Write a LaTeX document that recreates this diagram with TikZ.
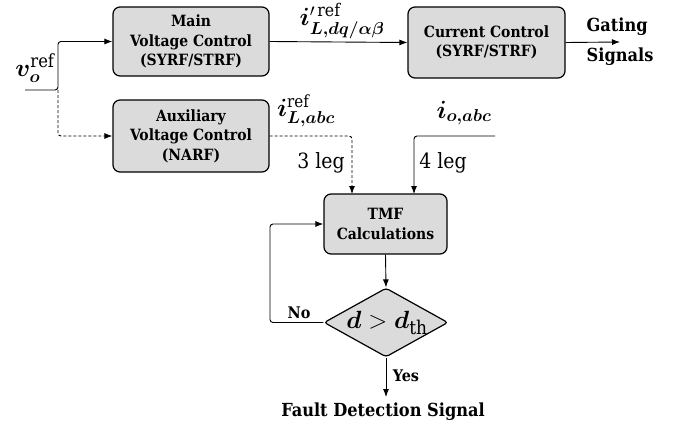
\documentclass[tikz,border=0pt]{standalone}
\usepackage{amsmath}
\usepackage{bm}
\usepackage{fontspec}
\setmainfont{DejaVu Serif Condensed}
\usetikzlibrary{arrows.meta,shapes.geometric}
\begin{document}
\begin{tikzpicture}[x=1pt,y=-1pt,
  blk/.style={draw=black,line width=1.2pt,rounded corners=7pt,fill=black!14,align=center,
    font=\fontsize{15.5}{19.5}\selectfont\bfseries,inner sep=0pt},
  conn/.style={line width=0.9pt,-{Latex[length=8pt,width=6pt]}},
  dconn/.style={conn,dash pattern=on 3pt off 2pt},
  lbl/.style={font=\fontsize{18}{30}\selectfont\bfseries,inner sep=0pt},
  mlbl/.style={font=\fontsize{24}{24}\selectfont,inner sep=0pt}]
\useasboundingbox (0,0) rectangle (677,428);
\node[blk,minimum width=156pt,minimum height=69pt] (main) at (191,41.5) {Main\\Voltage Control\\(SYRF/STRF)};
\node[blk,minimum width=157pt,minimum height=71pt] (cur) at (486.5,42.5) {Current Control\\(SYRF/STRF)};
\node[blk,minimum width=156pt,minimum height=72pt] (aux) at (191,136) {Auxiliary\\Voltage Control\\(NARF)};
\node[blk,minimum width=123pt,minimum height=60pt] (tmf) at (385.5,224) {TMF\\Calculations};
\node[diamond,draw=black,line width=1.2pt,fill=black!14,minimum width=124pt,minimum height=69pt,inner sep=0pt,aspect=1.8,rounded corners=3pt] (dia) at (386,322.5) {};
\node[font=\fontsize{27}{27}\selectfont,inner sep=0pt] (dtext) at (387,323) {$\bm{d}>\bm{d}_{\mathrm{th}}$};
\coordinate (vin) at (25,90);
\coordinate (split) at (58,90);
\coordinate (gate) at (620,42);
\coordinate (ioin) at (495,136);
\coordinate (yes) at (386,397);
\node[mlbl,font=\fontsize{26}{26}\selectfont] (vo) at (35,68) {$\bm{v}_{\bm{o}}^{\mathrm{ref}}$};
\node[mlbl,font=\fontsize{25}{25}\selectfont] (ilp) at (342,21) {$\bm{i}'^{\,\mathrm{ref}}_{\bm{L,dq/\alpha\beta}}$};
\node[mlbl] (il) at (306,111) {$\bm{i}^{\mathrm{ref}}_{\bm{L,abc}}$};
\node[mlbl] (io) at (464,113) {$\bm{i}_{\bm{o,abc}}$};
\node[lbl,align=left] (gs) at (620,42) {Gating\\Signals};
\node[font=\fontsize{21}{24}\selectfont,inner sep=0pt] (l3) at (321,163) {3 leg};
\node[font=\fontsize{21}{24}\selectfont,inner sep=0pt] (l4) at (443,163) {4 leg};
\node[font=\fontsize{16}{18}\selectfont\bfseries,inner sep=0pt] (no) at (299,313) {No};
\node[font=\fontsize{16}{18}\selectfont\bfseries,inner sep=0pt] (yl) at (406,376) {Yes};
\node[lbl] (fds) at (383,412) {Fault Detection Signal};
\draw[conn,rounded corners=3pt] (vin) -- (split) -- (split|-main.west) -- (main.west);
\draw[dconn,rounded corners=3pt] (split) -- (split|-aux.west) -- (aux.west);
\draw[conn] (main.east) -- (cur.west);
\draw[conn] (cur.east) -- (gate);
\draw[dconn,rounded corners=3pt] (aux.east) -- (352,136) -- (352,194);
\draw[conn,rounded corners=3pt] (ioin) -- (414,136) -- (414,194);
\draw[conn] (tmf.south) -- (dia.north);
\draw[conn,rounded corners=3pt] (dia.west) -- (270,322.5) -- (270,224) -- (tmf.west);
\draw[conn] (dia.south) -- (yes);
\end{tikzpicture}
\end{document}
